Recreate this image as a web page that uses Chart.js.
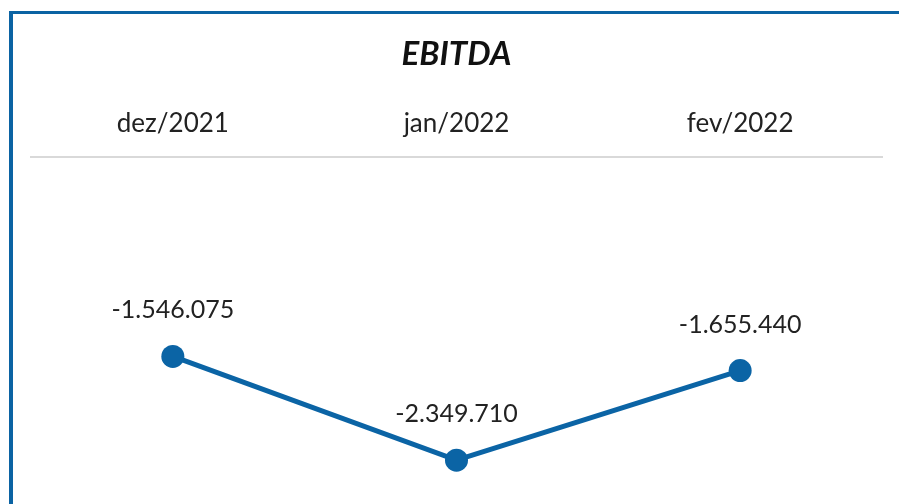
<!DOCTYPE html>
<html>
<head>
<meta charset="utf-8">
<script src="https://cdn.jsdelivr.net/npm/chart.js@4"></script>
<style>
  html, body { margin: 0; padding: 0; background: #fff; overflow: hidden; }
  #frame {
    position: absolute; left: 9px; top: 11px; width: 1000px; height: 600px;
    border-left: 4px solid #0b63a3; border-top: 3px solid #0b63a3;
  }
  #wrap { position: absolute; left: 0; top: 0; width: 899px; height: 504px; }
</style>
</head>
<body>
<div id="frame"></div>
<div id="wrap"><canvas id="ebitdaChart" width="899" height="504"></canvas></div>
<script>
// --- dados ---
const months = ['dez/2021', 'jan/2022', 'fev/2022'];
const ebitda = [-1546075, -2349710, -1655440];
const yMin = -2600000;
const yMax = 0;

const FONT = '"Century Gothic", Lato, "DejaVu Sans", sans-serif';
const BLUE = '#0b64a5';

// formata no padrão brasileiro (1.234.567)
function fmt(v) {
    const s = Math.abs(Math.round(v)).toString().replace(/\B(?=(\d{3})+(?!\d))/g, '.');
    return (v < 0 ? '-' : '') + s;
}

// rótulos de dados acima dos pontos
const valueLabels = {
    id: 'valueLabels',
    afterDatasetsDraw(chart) {
        const ctx = chart.ctx;
        const meta = chart.getDatasetMeta(0);
        ctx.save();
        ctx.font = '25px ' + FONT;
        ctx.fillStyle = '#222';
        ctx.textAlign = 'center';
        ctx.textBaseline = 'middle';
        meta.data.forEach((pt, i) => {
            ctx.fillText(fmt(chart.data.datasets[0].data[i]), pt.x, pt.y - 46);
        });
        ctx.restore();
    }
};

new Chart(document.getElementById('ebitdaChart'), {
    type: 'line',
    data: {
        labels: months,
        datasets: [{
            data: ebitda,
            borderColor: BLUE,
            backgroundColor: BLUE,
            borderWidth: 5,
            pointRadius: 11.5,
            pointHoverRadius: 11.5,
            pointBackgroundColor: BLUE,
            pointBorderWidth: 0,
            tension: 0,
            clip: false
        }]
    },
    options: {
        responsive: false,
        animation: false,
        layout: { padding: { left: 31, right: 17, top: 0, bottom: 0 } },
        plugins: {
            legend: { display: false },
            tooltip: { enabled: false },
            title: {
                display: true,
                text: 'EBITDA',
                color: '#111',
                font: { family: FONT, size: 33, weight: 'bold', style: 'italic', lineHeight: 1.2 },
                padding: { top: 35, bottom: 15 }
            }
        },
        scales: {
            x: {
                position: 'top',
                offset: true,
                grid: { display: false, drawTicks: false },
                border: { display: true, color: '#d9d9d9', width: 2 },
                ticks: {
                    color: '#222',
                    padding: 18,
                    font: { family: FONT, size: 26, lineHeight: 1.2 }
                }
            },
            y: {
                display: false,
                min: yMin,
                max: yMax
            }
        }
    },
    plugins: [valueLabels]
});
</script>
</body>
</html>
